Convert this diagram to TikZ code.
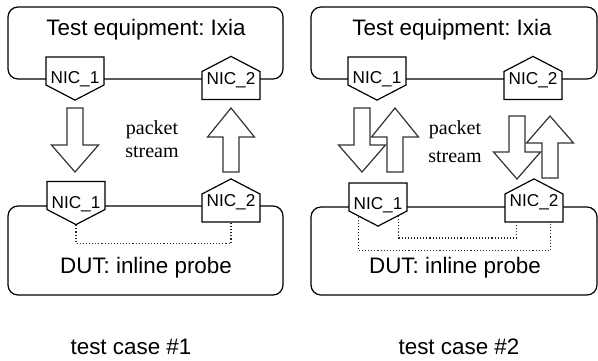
\documentclass[tikz,border=0pt]{standalone}
\usepackage{fontspec}
\setmainfont{Liberation Sans}
\newfontfamily\seriffont{Liberation Serif}
\usetikzlibrary{shapes.symbols, calc}
\frenchspacing

\tikzset{
  box/.style={draw, rounded corners=5pt, line width=0.6pt, inner sep=0pt},
  nic/.style={signal, draw, fill=white, line width=0.6pt, inner xsep=14.5pt,
    inner ysep=7pt, signal pointer angle=125, signal from=nowhere},
  nicout/.style={nic, signal to=south},
  nicin/.style={nic, signal to=north},
  nictext/.style={font=\fontsize{8.6}{10}\selectfont, inner sep=0pt},
  title/.style={font=\fontsize{11.2}{13}\selectfont, inner sep=0pt},
  stream/.style={font=\seriffont\fontsize{10}{11.5}\selectfont, align=center, inner sep=0pt},
  blockarrow/.style={draw=black!80, fill=white, line width=0.6pt},
  probe/.style={densely dotted, draw=black!85, line width=0.55pt}
}

\begin{document}
\begin{tikzpicture}[x=0.5pt, y=-0.5pt]
    \useasboundingbox (0,0) rectangle (598,360);

    % Boxes
    \node[box, minimum width=137.5pt, minimum height=36pt] (ixia1) at (145.5,43) {};
    \node[box, minimum width=143pt, minimum height=36pt] (ixia2) at (454,43) {};
    \node[box, minimum width=137.5pt, minimum height=44.5pt] (dut1) at (145.5,250.5) {};
    \node[box, minimum width=143pt, minimum height=44pt] (dut2) at (454,251) {};

    \node[title] (ixia1t) at (146,30) {Test equipment: Ixia};
    \node[title] (ixia2t) at (452,30) {Test equipment: Ixia};
    \node[title] (dut1t) at (146,268) {DUT: inline probe};
    \node[title] (dut2t) at (455,268) {DUT: inline probe};

    % Packet streams
    \foreach \x/\t/\h/\p in {75/108/145/172, 231/172/137/108,
        362/108/145/172, 395/172/137/108, 517/116/152/179, 550/178/143/116} {
        \draw[blockarrow] (\x-8,\t) -- (\x-8,\h) -- (\x-23.5,\h) -- (\x,\p)
            -- (\x+23.5,\h) -- (\x+8,\h) -- (\x+8,\t) -- cycle;
    }
    \node[stream] (str1) at (152,139) {packet\\stream};
    \node[stream] (str2) at (455,142) {packet\\[2.5pt]stream};

    % NICs
    \node[nicout] (a1) at (75,71) {};
    \node[nicin] (a2) at (231,85.5) {};
    \node[nicout] (p1) at (76,195.5) {};
    \node[nicin] (p2) at (231,208) {};
    \node[nicout] (b1) at (377,71) {};
    \node[nicin] (b2) at (533,85.5) {};
    \node[nicout] (q1) at (378,197) {};
    \node[nicin] (q2) at (534,208) {};

    \foreach \n in {a1, p1, b1, q1} {
        \node[nictext] (\n t) at ([yshift=-4.3pt]\n.center) {NIC\_1};
    }
    \foreach \n in {a2, p2, b2, q2} {
        \node[nictext] (\n t) at ([yshift=2.9pt]\n.center) {NIC\_2};
    }

    % Links inside the probe
    \draw[probe] (p1.south) -- ++(0,18) -| (p2.south);
    \draw[probe] ($(q1.south)!0.7!(q1.south east)$) -- ++(0,22)
        -| ($(q2.south)!0.6!(q2.south west)$);
    \draw[probe] ($(q1.south)!0.65!(q1.south west)$) -- ++(0,34)
        -| ($(q2.south)!0.55!(q2.south east)$);

    \node[title] (case1) at (131,347) {test case \#1};
    \node[title] (case2) at (459,347) {test case \#2};

\end{tikzpicture}
\end{document}
